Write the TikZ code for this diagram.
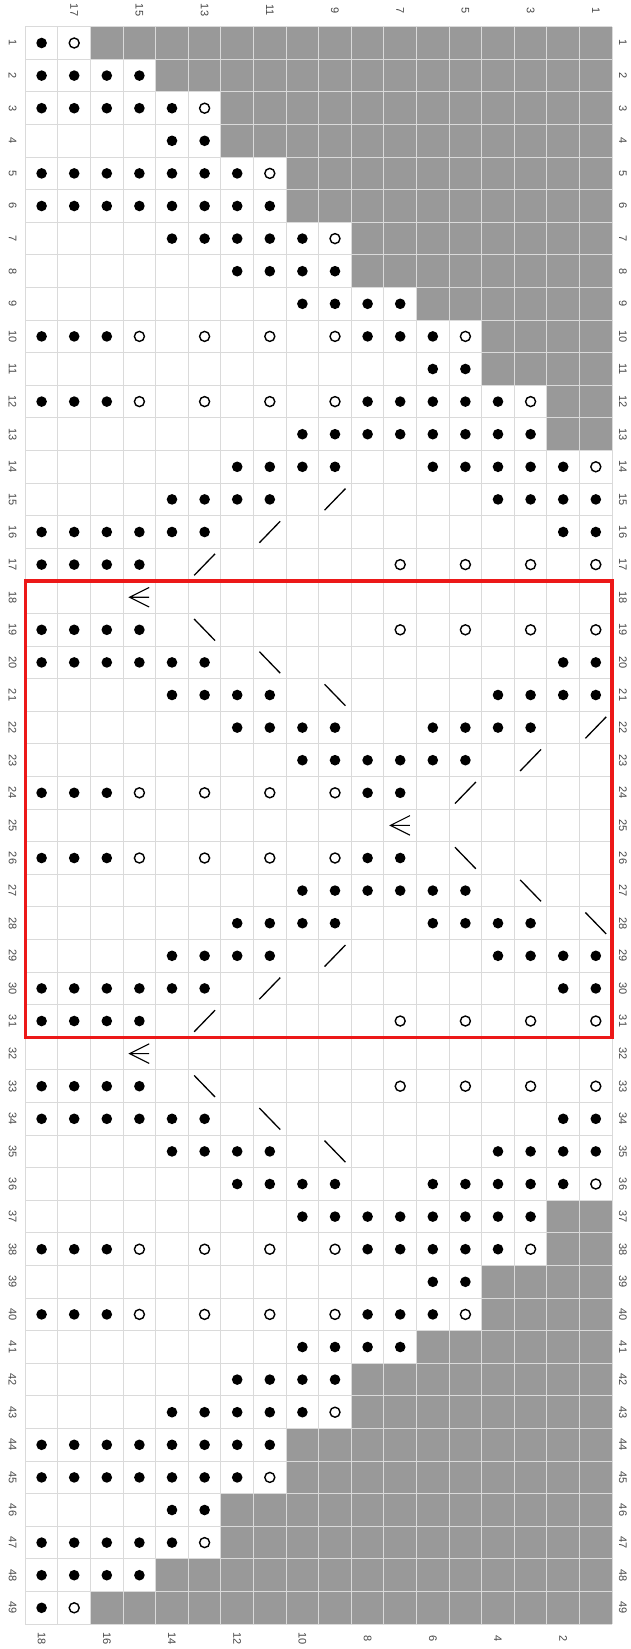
\documentclass[tikz,border=0pt]{standalone}
\usepackage{fontspec}
\setmainfont{Liberation Sans}
\usepackage{xcolor}
\usepackage{tikz}
\definecolor{chartShade}{RGB}{153,153,153}
\definecolor{chartGrid}{RGB}{218,218,218}
\definecolor{chartLabel}{RGB}{70,70,70}
\definecolor{chartFrame}{RGB}{236,24,24}

\begin{document}
\begin{tikzpicture}[
    x=32.6pt, y=-32.6pt,
    gridline/.style={draw=chartGrid, line width=0.9pt},
    shade/.style={fill=chartShade},
    knot/.style={circle, fill=black, inner sep=0pt, minimum size=10.6pt},
    yarnover/.style={circle, draw=black, line width=1.4pt, inner sep=0pt, minimum size=10pt},
    decrease/.style={line width=1.3pt},
    rowlab/.style={font=\fontsize{11}{13}\selectfont, text=chartLabel, rotate=-90, inner sep=0pt},
    frame/.style={draw=chartFrame, line width=3.3pt}
  ]
    \useasboundingbox (-25.3pt,26.7pt) rectangle (604.7pt,-1622.3pt);
    \foreach \r/\g in {1/16,2/14,3/12,4/12,5/10,6/10,7/8,8/8,9/6,10/4,11/4,12/2,13/2,
                       37/2,38/2,39/4,40/4,41/6,42/8,43/8,44/10,45/10,46/12,47/12,48/14,49/16}
      \fill[shade] (18-\g,\r-1) rectangle (18,\r);
    \foreach \i in {0,...,18}
      \draw[gridline] (\i,0) -- (\i,49);
    \foreach \j in {0,...,49}
      \draw[gridline] (0,\j) -- (18,\j);
    \foreach \r/\cols in {1/{18}, 2/{18,17,16,15}, 3/{18,17,16,15,14}, 4/{14,13},
        5/{18,17,16,15,14,13,12}, 6/{18,17,16,15,14,13,12,11}, 7/{14,13,12,11,10},
        8/{12,11,10,9}, 9/{10,9,8,7}, 10/{18,17,16,8,7,6}, 11/{6,5},
        12/{18,17,16,8,7,6,5,4}, 13/{10,9,8,7,6,5,4,3}, 14/{12,11,10,9,6,5,4,3,2},
        15/{14,13,12,11,4,3,2,1}, 16/{18,17,16,15,14,13,2,1}, 17/{18,17,16,15},
        19/{18,17,16,15}, 20/{18,17,16,15,14,13,2,1}, 21/{14,13,12,11,4,3,2,1},
        22/{12,11,10,9,6,5,4,3}, 23/{10,9,8,7,6,5}, 24/{18,17,16,8,7},
        26/{18,17,16,8,7}, 27/{10,9,8,7,6,5}, 28/{12,11,10,9,6,5,4,3},
        29/{14,13,12,11,4,3,2,1}, 30/{18,17,16,15,14,13,2,1}, 31/{18,17,16,15},
        33/{18,17,16,15}, 34/{18,17,16,15,14,13,2,1}, 35/{14,13,12,11,4,3,2,1},
        36/{12,11,10,9,6,5,4,3,2}, 37/{10,9,8,7,6,5,4,3}, 38/{18,17,16,8,7,6,5,4},
        39/{6,5}, 40/{18,17,16,8,7,6}, 41/{10,9,8,7}, 42/{12,11,10,9},
        43/{14,13,12,11,10}, 44/{18,17,16,15,14,13,12,11}, 45/{18,17,16,15,14,13,12},
        46/{14,13}, 47/{18,17,16,15,14}, 48/{18,17,16,15}, 49/{18}}
      \foreach \c in \cols
        \node[knot] (k\r-\c) at (18.5-\c,\r-0.5) {};
    \foreach \r/\cols in {1/{17}, 3/{13}, 5/{11}, 7/{9}, 10/{15,13,11,9,5},
        12/{15,13,11,9,3}, 14/{1}, 17/{7,5,3,1}, 19/{7,5,3,1}, 24/{15,13,11,9},
        26/{15,13,11,9}, 31/{7,5,3,1}, 33/{7,5,3,1}, 36/{1}, 38/{15,13,11,9,3},
        40/{15,13,11,9,5}, 43/{9}, 45/{11}, 47/{13}, 49/{17}}
      \foreach \c in \cols
        \node[yarnover] (o\r-\c) at (18.5-\c,\r-0.5) {};
    \foreach \r/\c in {15/9,16/11,17/13,22/1,23/3,24/5,29/9,30/11,31/13}
      \draw[decrease, shift={(18.5-\c,\r-0.5)}] (-0.32,0.33) -- (0.32,-0.33);
    \foreach \r/\c in {19/13,20/11,21/9,26/5,27/3,28/1,33/13,34/11,35/9}
      \draw[decrease, shift={(18.5-\c,\r-0.5)}] (-0.32,-0.33) -- (0.32,0.33);
    \foreach \r/\c in {18/15,25/7,32/15}
      \draw[decrease, line width=1.1pt, shift={(18.5-\c,\r-0.5)}]
        (0.3,-0.3) -- (-0.3,0) -- (0.3,0.3) (-0.3,0) -- (0.3,0);
    \draw[frame] (0,17) rectangle (18,31);
    \foreach \r in {1,...,49} {
      \node[rowlab] (ll\r) at (-0.39,\r-0.5) {\r};
      \node[rowlab] (rl\r) at (18.33,\r-0.5) {\r};
    }
    \foreach \c in {1,3,...,17}
      \node[rowlab] (tl\c) at (18.5-\c,-0.51) {\c};
    \foreach \c in {2,4,...,18}
      \node[rowlab] (bl\c) at (18.5-\c,49.44) {\c};
  \end{tikzpicture}
\end{document}
